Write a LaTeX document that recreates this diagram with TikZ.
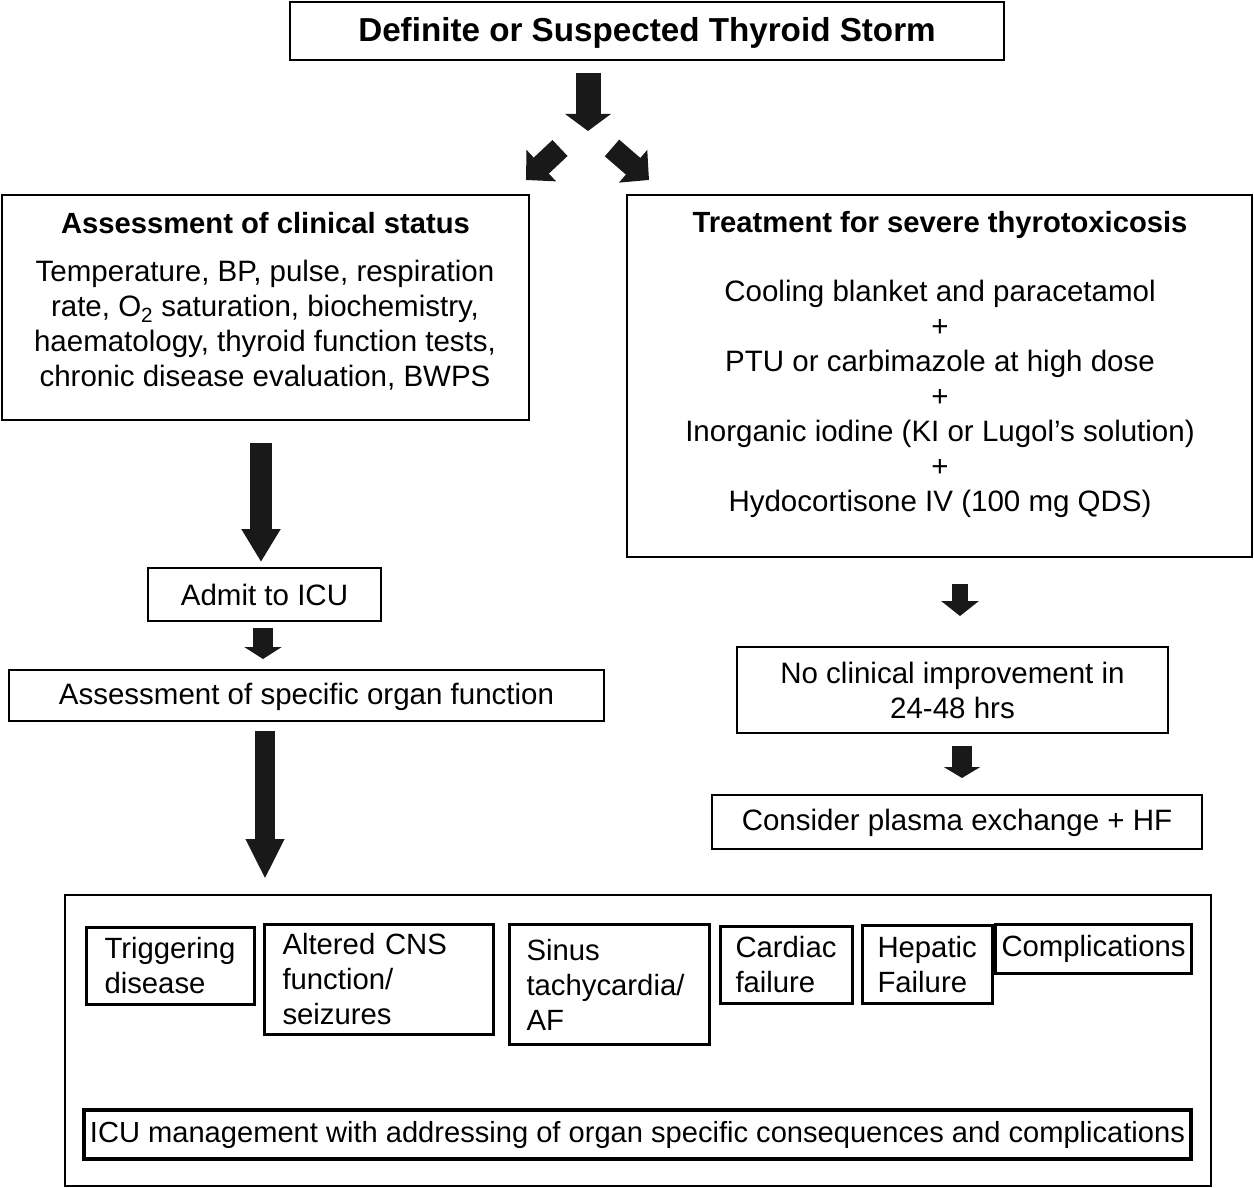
\documentclass[tikz,border=0pt]{standalone}
\usepackage{fontspec}
\setmainfont{Liberation Sans}
\usetikzlibrary{arrows.meta,calc}
\begin{document}
\begin{tikzpicture}[x=1pt,y=-1pt,
  box/.style={draw=black, line width=2pt, inner sep=0pt},
  ibox/.style={draw=black, line width=3pt, inner sep=0pt},
  txt/.style={align=center, inner sep=0pt, font=\fontsize{29.5}{35}\selectfont},
  ltxt/.style={align=left, inner ysep=0pt, font=\fontsize{29.3}{35}\selectfont},
  barrow/.style n args={3}{draw=black!90, line width=#1, -{Triangle[width=#2, length=#3]}}
]
\fill[white] (0,0) rectangle (1254,1188);
\useasboundingbox (0,0) rectangle (1254,1188);

% top
\node[box, minimum width=714pt, minimum height=58pt, text height=29pt, text depth=7pt, font=\bfseries\fontsize{33.2}{40}\selectfont] (top) at (647,31) {Definite or Suspected Thyroid Storm};

% assessment box
\node[box, minimum width=527pt, minimum height=225pt] (assess) at (265.5,307.5) {};
\node[txt, font=\bfseries\fontsize{29.2}{35}\selectfont] (assessT) at (265.5,223.5) {Assessment of clinical status};
\node[txt] (assessB) at (265,325.5) {Temperature, BP, pulse, respiration\\rate, O\textsubscript{2} saturation, biochemistry,\\haematology, thyroid function tests,\\chronic disease evaluation, BWPS};

% treatment box
\node[box, minimum width=625pt, minimum height=362pt] (treat) at (939.5,376) {};
\node[txt, font=\bfseries\fontsize{29.2}{35}\selectfont] (treatT) at (940,225) {Treatment for severe thyrotoxicosis};
\node[txt] (treatB) at (940,399) {Cooling blanket and paracetamol\\+\\PTU or carbimazole at high dose\\+\\Inorganic iodine (KI or Lugol’s solution)\\+\\Hydocortisone IV (100 mg QDS)};

% left chain
\node[box, minimum width=233pt, minimum height=53pt, txt] (admit) at (264.5,594.5) {Admit to ICU};
\node[box, minimum width=595pt, minimum height=51pt, txt, text height=24pt] (organ) at (306.5,695.5) {Assessment of specific organ function};

% right chain
\node[box, minimum width=431pt, minimum height=86pt, txt] (noimp) at (952.5,690) {No clinical improvement in\\24-48 hrs};
\node[box, minimum width=490pt, minimum height=54pt, txt, text height=24pt] (plasma) at (957,822) {Consider plasma exchange + HF};

% bottom
\node[box, minimum width=1146pt, minimum height=291pt] (bottom) at (638,1040.5) {};
\node[ibox, ltxt, anchor=north west, inner xsep=18pt, text width=132pt, minimum height=77pt] (trig) at (85,926) {\mbox{Triggering}\\\mbox{disease}};
\node[ibox, ltxt, anchor=north west, inner xsep=18pt, text width=193pt, minimum height=110pt] (cns) at (263,923) {\mbox{Altered CNS}\\\mbox{function/}\\\mbox{seizures}};
\node[ibox, ltxt, anchor=north west, inner xsep=17pt, text width=166pt, minimum height=120pt] (sinus) at (508,923) {\mbox{Sinus}\\\mbox{tachycardia/}\\\mbox{AF}};
\node[ibox, ltxt, anchor=north west, inner xsep=15pt, text width=102pt, minimum height=77pt] (cardiac) at (719,925) {\mbox{Cardiac}\\\mbox{failure}};
\node[ibox, ltxt, anchor=north west, inner xsep=15pt, text width=100pt, minimum height=78pt] (hepatic) at (861,924) {\mbox{Hepatic}\\\mbox{Failure}};
\node[ibox, ltxt, anchor=north west, inner xsep=6pt, text width=184pt, minimum height=49pt] (compl) at (994,923) {\mbox{Complications}};
\node[ibox, line width=3.5pt, minimum width=1107pt, minimum height=49pt, txt, font=\fontsize{29.1}{35}\selectfont] (icu) at (637.5,1134.5) {ICU management with addressing of organ specific consequences and complications};

% block arrows
\draw[barrow={25pt}{45pt}{17pt}] ([xshift=-59pt,yshift=-12pt]top.south) -- ([xshift=-59pt,yshift=-70pt]top.south);
\draw[barrow={22pt}{42pt}{21pt}] ([xshift=-87pt,yshift=-87pt]top.south) -- ([xshift=-4pt,yshift=14pt]assess.north east);
\draw[barrow={22pt}{42pt}{21pt}] ([xshift=-35pt,yshift=-87pt]top.south) -- ([xshift=23pt,yshift=14pt]treat.north west);
\draw[barrow={22pt}{37pt}{33pt}] ([xshift=-4.5pt,yshift=-22pt]assess.south) -- ([xshift=-3.5pt,yshift=5pt]admit.north);
\draw[barrow={20pt}{37pt}{12pt}] ([xshift=-1.5pt,yshift=-6pt]admit.south) -- ([xshift=-43.5pt,yshift=10pt]organ.north);
\draw[barrow={20pt}{36pt}{40pt}] ([xshift=-41.5pt,yshift=-9pt]organ.south) -- ([xshift=-373pt,yshift=15pt]bottom.north);
\draw[barrow={16pt}{37pt}{15pt}] ([xshift=20.5pt,yshift=-26pt]treat.south) -- ([xshift=7.5pt,yshift=30pt]noimp.north);
\draw[barrow={20pt}{36pt}{11pt}] ([xshift=9.5pt,yshift=-12pt]noimp.south) -- ([xshift=5pt,yshift=16pt]plasma.north);
\end{tikzpicture}
\end{document}
